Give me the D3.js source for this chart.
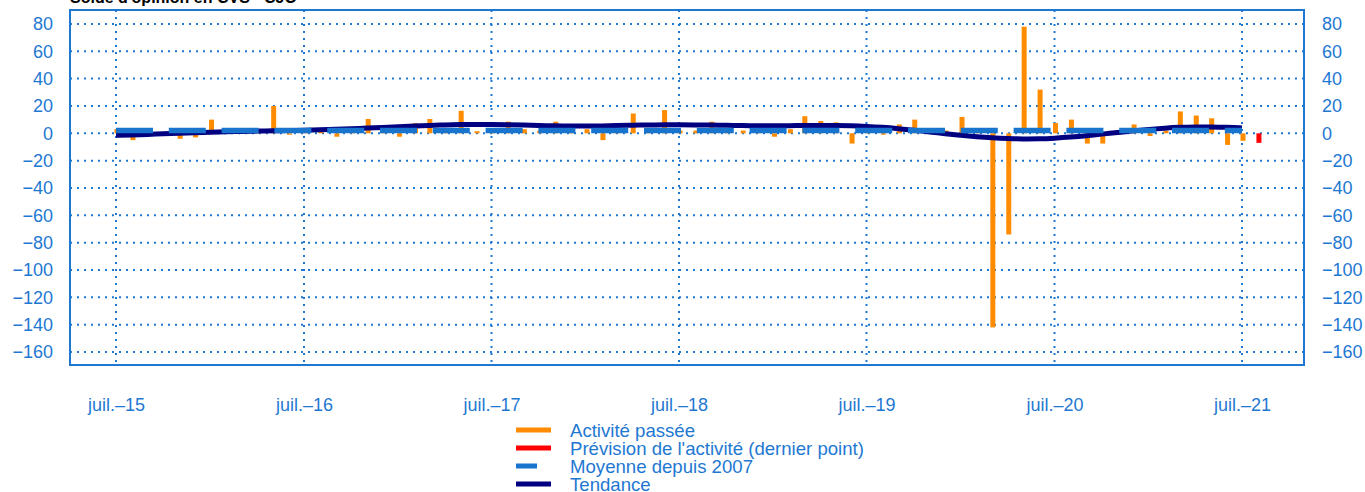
<!DOCTYPE html>
<html lang="fr">
<head>
<meta charset="utf-8">
<script src="https://cdn.jsdelivr.net/npm/d3@7"></script>
<style>
  body { margin: 0; background: #fff; }
  svg { display: block; font-family: "Liberation Sans", Arial, sans-serif; }
</style>
</head>
<body>
<svg width="1365" height="492"></svg>
<script>
"use strict";

// Solde d'opinion, activité passée (mensuel, juil. 2015 -> juil. 2021)
var activite = [
    3, -5, 1, 1, -4, -3, 10, 1, 2, 1, 20, -1,
    2, 1, -2.5, 2, 10.5, 1, -2.5, 7.5, 10.5, 2, 16.5, 1.5,
    3, 8.5, 3, 2, 8.5, 2, 3, -5, 2, 14.5, 1, 17,
    2, 2, 8.5, 1, 2, 1, -2.5, 3, 12.5, 9, 8, -7.5,
    1, -1, 6.5, 10, 1, 2, 12, 1, -142, -74, 78, 32,
    7.5, 10, -7.5, -7.5, -1, 6.5, -2, 2, 16, 13, 11, -8.5,
    -5.5
];

// Prévision (dernier point, août 2021)
var prevision = [-7];

// Tendance (mensuel)
var tendance = [
    -1.5, -1.2, -0.8, -0.4, 0, 0.4, 0.8, 1.1, 1.4, 1.6, 1.8, 2.0,
    2.2, 2.5, 2.9, 3.3, 3.8, 4.3, 4.8, 5.3, 5.7, 6.1, 6.4, 6.5,
    6.5, 6.3, 6.0, 5.7, 5.4, 5.3, 5.3, 5.4, 5.6, 5.9, 6.1, 6.2,
    6.2, 6.1, 6.0, 5.8, 5.6, 5.5, 5.5, 5.6, 5.7, 5.8, 5.8, 5.6,
    5.1, 4.4, 3.4, 2.3, 1.0, -0.3, -1.5, -2.5, -3.3, -3.9, -4.2, -4.1,
    -3.6, -2.8, -1.8, -0.6, 0.6, 1.8, 2.9, 3.8, 4.4, 4.7, 4.7, 4.4,
    3.9
];

// Moyenne depuis 2007
var moyenne = 2.1;

var yTicks = [-160, -140, -120, -100, -80, -60, -40, -20, 0, 20, 40, 60, 80];
var xTickYears = [2015, 2016, 2017, 2018, 2019, 2020, 2021];

var legendItems = [
    {label: "Activité passée", color: "#ff8c00", len: 35},
    {label: "Prévision de l'activité (dernier point)", color: "#ff0000", len: 35},
    {label: "Moyenne depuis 2007", color: "#1874cd", len: 21},
    {label: "Tendance", color: "#000080", len: 35}
];

var blue = "#1e78d2";
var frame = {left: 70, right: 1304, top: 10, bottom: 365};

var svg = d3.select("svg");

var start = new Date(2015, 6, 1);
var months = d3.range(activite.length + prevision.length).map(function (i) {
    return d3.timeMonth.offset(start, i);
});

var xScale = d3.scaleTime()
    .domain([new Date(2015, 6, 1), new Date(2021, 6, 1)])
    .range([116, 1242]);

var yScale = d3.scaleLinear()
    .domain([-169.5, 90.2])
    .range([frame.bottom, frame.top]);

var fmt = function (d) { return d < 0 ? "\u2212" + Math.abs(d) : String(d); };

// Title (cut off at the top, as in the source)
svg.append("text")
    .attr("x", 70)
    .attr("y", 3)
    .style("font-weight", "bold")
    .style("font-size", "16px")
    .attr("fill", "#000")
    .text("Solde d'opinion en CVS - CJO");

// Grid
var grid = svg.append("g").attr("class", "grid");
grid.selectAll("line.h")
    .data(yTicks)
    .enter().append("line")
        .attr("class", "h")
        .attr("x1", frame.left)
        .attr("x2", frame.right)
        .attr("y1", function (d) { return yScale(d); })
        .attr("y2", function (d) { return yScale(d); })
        .attr("stroke", blue)
        .attr("stroke-width", 2)
        .attr("stroke-dasharray", "2,5");

grid.selectAll("line.v")
    .data(xTickYears)
    .enter().append("line")
        .attr("class", "v")
        .attr("x1", function (d) { return xScale(new Date(d, 6, 1)); })
        .attr("x2", function (d) { return xScale(new Date(d, 6, 1)); })
        .attr("y1", frame.top)
        .attr("y2", frame.bottom)
        .attr("stroke", blue)
        .attr("stroke-width", 2)
        .attr("stroke-dasharray", "2,5");

// Bars
var barW = 5;
svg.append("g")
    .selectAll("rect")
    .data(activite)
    .enter().append("rect")
        .attr("x", function (d, i) { return xScale(months[i]) - barW / 2 + 1; })
        .attr("y", function (d) { return yScale(Math.max(0, d)); })
        .attr("width", barW)
        .attr("height", function (d) { return Math.abs(yScale(d) - yScale(0)); })
        .attr("fill", "#ff8c00");

svg.append("g")
    .selectAll("rect")
    .data(prevision)
    .enter().append("rect")
        .attr("x", function (d, i) { return xScale(months[activite.length + i]) - barW / 2 + 1; })
        .attr("y", function (d) { return yScale(Math.max(0, d)); })
        .attr("width", barW)
        .attr("height", function (d) { return Math.abs(yScale(d) - yScale(0)); })
        .attr("fill", "#ff0000");

// Trend
var line = d3.line()
    .x(function (d, i) { return xScale(months[i]); })
    .y(function (d) { return yScale(d); })
    .curve(d3.curveBasis);

svg.append("path")
    .datum(tendance)
    .attr("d", line)
    .attr("fill", "none")
    .attr("stroke", "#000080")
    .attr("stroke-width", 5);

// Mean since 2007
svg.append("line")
    .attr("x1", xScale(months[0]))
    .attr("x2", xScale(months[activite.length - 1]))
    .attr("y1", yScale(moyenne))
    .attr("y2", yScale(moyenne))
    .attr("stroke", "#1874cd")
    .attr("stroke-width", 5.5)
    .attr("stroke-dasharray", "37,15.8");

// Frame
svg.append("rect")
    .attr("x", frame.left)
    .attr("y", frame.top)
    .attr("width", frame.right - frame.left)
    .attr("height", frame.bottom - frame.top)
    .attr("fill", "none")
    .attr("stroke", blue)
    .attr("stroke-width", 2);

// Axes
var leftAxis = d3.axisLeft(yScale).tickValues(yTicks).tickSize(0).tickPadding(17).tickFormat(fmt);
var rightAxis = d3.axisRight(yScale).tickValues(yTicks).tickSize(0).tickPadding(18).tickFormat(fmt);
var bottomAxis = d3.axisBottom(xScale)
    .tickValues(xTickYears.map(function (y) { return new Date(y, 6, 1); }))
    .tickSize(0)
    .tickPadding(33)
    .tickFormat(function (d) { return "juil.\u2013" + d3.timeFormat("%y")(d); });

[
    svg.append("g").attr("transform", "translate(" + frame.left + ",0)").call(leftAxis),
    svg.append("g").attr("transform", "translate(" + frame.right + ",0)").call(rightAxis),
    svg.append("g").attr("transform", "translate(0," + frame.bottom + ")").call(bottomAxis)
].forEach(function (g) {
    g.select(".domain").remove();
    g.selectAll("text")
        .attr("fill", blue)
        .style("font-size", "18px")
        .style("font-family", "'Liberation Sans', Arial, sans-serif");
});

// Legend
var legend = svg.append("g").attr("class", "legend");
legendItems.forEach(function (item, i) {
    var yy = 430 + i * 18;
    legend.append("line")
        .attr("x1", 516)
        .attr("x2", 516 + item.len)
        .attr("y1", yy)
        .attr("y2", yy)
        .attr("stroke", item.color)
        .attr("stroke-width", 5);
    legend.append("text")
        .attr("x", 570)
        .attr("y", yy)
        .attr("dy", "0.35em")
        .attr("fill", blue)
        .style("font-size", "18.6px")
        .text(item.label);
});
</script>
</body>
</html>
